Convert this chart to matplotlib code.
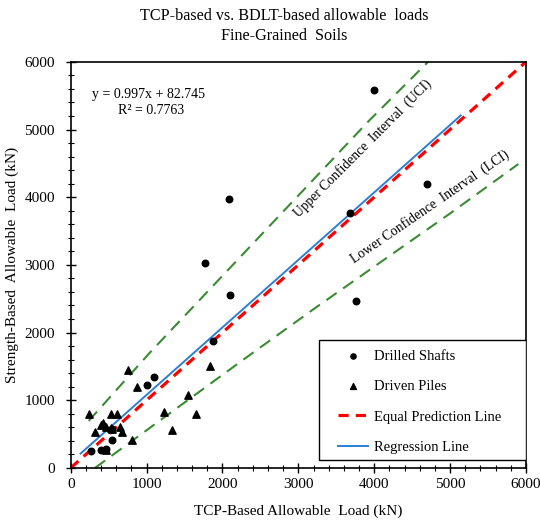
import numpy as np
import matplotlib.pyplot as plt
from matplotlib.ticker import MultipleLocator
from matplotlib.patches import Rectangle

plt.rcParams['font.family'] = ['Liberation Serif', 'DejaVu Serif']

# drilled shafts (TCP-based, strength-based), kN
ds_x = np.array([4000, 2080, 1770, 2100, 3680, 4690, 3760, 1870, 1100, 1000, 550, 550, 270, 400, 470])
ds_y = np.array([5590, 3980, 3030, 2560, 3770, 4200, 2470, 1870, 1350, 1220, 570, 410, 250, 260, 280])

# driven piles
dp_x = np.array([750, 870, 240, 530, 615, 430, 400, 460, 650, 320, 670, 550, 530, 810, 470, 1230, 1330, 1550, 1650, 1830])
dp_y = np.array([1440, 1200, 800, 790, 790, 670, 640, 610, 610, 530, 530, 570, 590, 420, 270, 830, 560, 1080, 790, 1500])

# equal prediction line
eq_x = [0, 6000]
eq_y = [0, 6000]

# regression line y = 0.997x + 82.745
reg_slope = 0.997
reg_int = 82.745
reg_x = np.array([130, 5140])

# confidence interval curves
uci_x = [237, 1040, 2490, 3940, 4710]
uci_y = [695, 1700, 3420, 5140, 6000]
lci_x = [320, 1306, 2361, 3218, 5000, 5900]
lci_y = [0, 808, 1670, 2360, 3760, 4490]

fig = plt.figure(figsize=(5.4, 5.24), dpi=100)
ax = fig.add_axes([0.131, 0.107, 0.843, 0.775])

ax.plot(uci_x, uci_y, color='#3a8c33', lw=1.5, ls=(0, (6, 3.8)))
ax.plot(lci_x, lci_y, color='#3a8c33', lw=1.5, ls=(0, (6, 3.8)))
ax.plot(reg_x, reg_slope * reg_x + reg_int, color='#2a7fd6', lw=1.4, label='Regression Line')
ax.plot(eq_x, eq_y, color='#ff0000', lw=2.3, ls=(0, (3.2, 2.2)), label='Equal Prediction Line')
ax.scatter(ds_x, ds_y, s=22, marker='o', color='black', zorder=5, label='Drilled Shafts')
ax.scatter(dp_x, dp_y, s=28, marker='^', color='black', zorder=5, label='Driven Piles')

ax.set_xlim(0, 6000)
ax.set_ylim(0, 6000)
ax.xaxis.set_major_locator(MultipleLocator(1000))
ax.yaxis.set_major_locator(MultipleLocator(1000))
ax.xaxis.set_minor_locator(MultipleLocator(200))
ax.yaxis.set_minor_locator(MultipleLocator(200))
ax.tick_params(which='major', direction='inout', length=7, width=1, labelsize=11)
ax.tick_params(which='minor', direction='inout', length=5, width=0.8)
ax.tick_params(axis='y', which='major', pad=8)
for sp in ax.spines.values():
    sp.set_linewidth(1.2)

ax.set_xlabel('TCP-Based Allowable  Load (kN)', fontsize=11, labelpad=10)
ax.set_ylabel('Strength-Based  Allowable  Load (kN)', fontsize=11, labelpad=4)
fig.text(0.526, 0.985, 'TCP-based vs. BDLT-based allowable  loads\nFine-Grained  Soils',
         fontsize=11.6, ha='center', va='top', linespacing=1.35)

ax.text(277, 5513, 'y = 0.997x + 82.745', fontsize=10, va='center')
ax.text(620, 5277, 'R² = 0.7763', fontsize=10, va='center')

ax.text(3850, 4720, 'Upper Confidence  Interval  (UCI)', fontsize=9.8, rotation=45,
        rotation_mode='anchor', ha='center', va='center')
ax.text(4740, 3860, 'Lower Confidence  Interval  (LCI)', fontsize=9.8, rotation=34.5,
        rotation_mode='anchor', ha='center', va='center')

# legend box drawn separately, entries placed inside it
ax.add_patch(Rectangle((0.545, 0.02), 0.455, 0.296, transform=ax.transAxes,
                       facecolor='white', edgecolor='black', lw=1.0, zorder=6))
handles, labels = ax.get_legend_handles_labels()
order = [labels.index(l) for l in ['Drilled Shafts', 'Driven Piles', 'Equal Prediction Line', 'Regression Line']]
leg = ax.legend([handles[i] for i in order], [labels[i] for i in order],
                loc='upper left', bbox_to_anchor=(0.587, 0.291), borderaxespad=0,
                borderpad=0, frameon=False, fontsize=10.5, labelspacing=1.17,
                handlelength=2.05, handletextpad=0.4, markerscale=0.8)
leg.set_zorder(7)

fig.savefig('out.png', dpi=100)
